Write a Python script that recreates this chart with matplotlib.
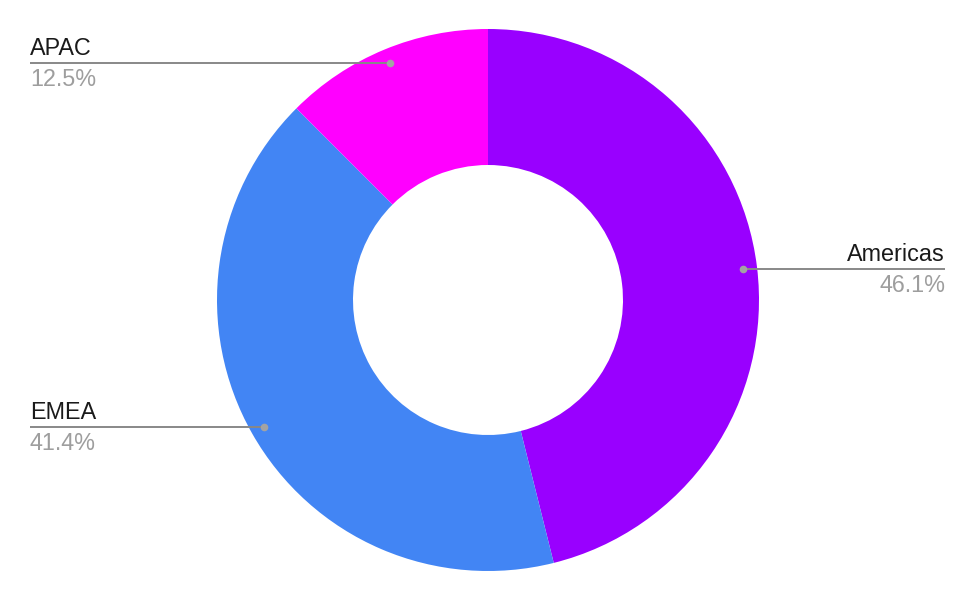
import matplotlib.pyplot as plt
import numpy as np

regions = ['Americas', 'EMEA', 'APAC']
shares = [46.1, 41.4, 12.5]
pct_labels = ['46.1%', '41.4%', '12.5%']
colors = ['#9900ff', '#4285f4', '#ff00ff']

W, H = 976, 602
cx, cy = 488, H - 300
R = 271
hole = 136

fig = plt.figure(figsize=(W / 100, H / 100), dpi=100)
ax = fig.add_axes([0, 0, 1, 1])

wedges, _ = ax.pie(shares, colors=colors, startangle=90, counterclock=False,
                   radius=R, center=(cx, cy),
                   wedgeprops=dict(width=hole, linewidth=0))
ax.set_xlim(0, W)
ax.set_ylim(0, H)
ax.set_aspect('equal')
ax.axis('off')

# leader lines + labels
fs = 16.8
for w, name, pct in zip(wedges, regions, pct_labels):
    mid = np.deg2rad((w.theta1 + w.theta2) / 2)
    dx = cx + (R - 14) * np.cos(mid)
    dy = cy + (R - 14) * np.sin(mid)
    if np.cos(mid) > 0:
        tx, ha = 945, 'right'
    else:
        tx, ha = 30, 'left'
    ax.plot([dx, tx], [dy, dy], color='#888888', lw=1.4, solid_capstyle='butt', zorder=3)
    ax.plot(dx, dy, 'o', color='#a3a3a3', markersize=5.5, markeredgewidth=0, zorder=4)
    ax.text(tx, dy + 7.5, name, ha=ha, va='baseline', fontsize=fs,
            family='Liberation Sans', color='#1a1a1a')
    ax.text(tx, dy - 23.2, pct, ha=ha, va='baseline', fontsize=fs,
            family='Liberation Sans', color='#9e9e9e')

fig.savefig('out.png', dpi=100, facecolor='white')
